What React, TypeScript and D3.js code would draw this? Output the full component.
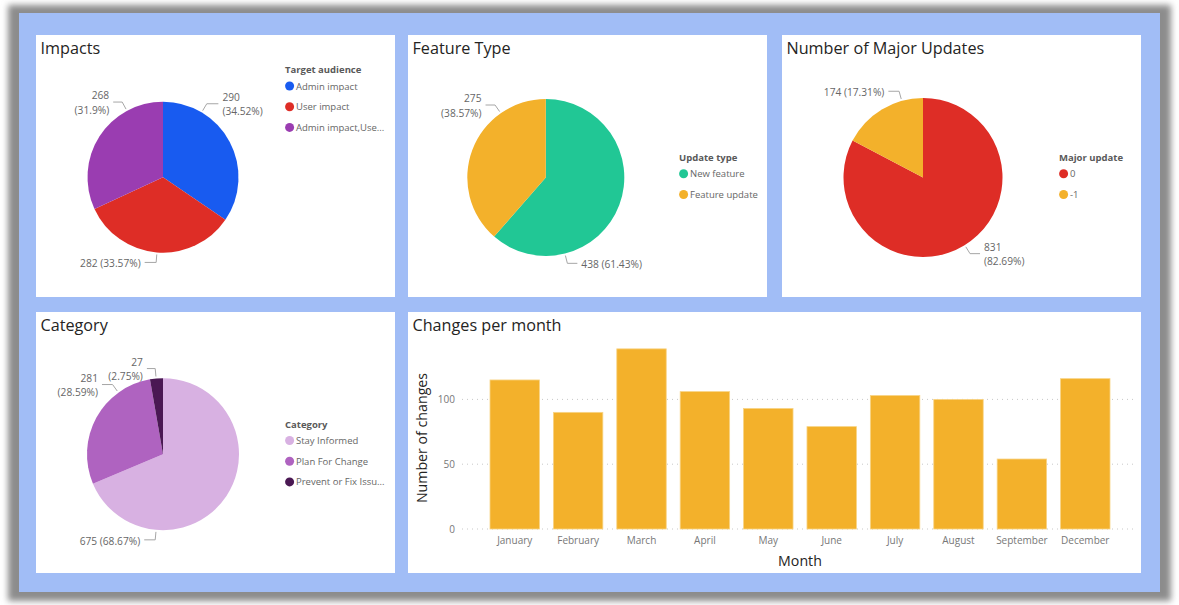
import React from 'react';
import * as d3 from 'd3';

const FONT = "'Segoe UI', 'Open Sans', sans-serif";

// ---------- data ----------
const impactCategories = ["Admin impact", "User impact", "Admin impact,User impact"];
const impactValues = [290, 282, 268];
const impactColors = ["#185BF0", "#DE2D26", "#9A3DB1"];

const featureCategories = ["New feature", "Feature update"];
const featureValues = [438, 275];
const featureColors = ["#21C795", "#F3B12B"];

const majorCategories = ["0", "-1"];
const majorValues = [831, 174];
const majorColors = ["#DE2D26", "#F3B12B"];

const categoryNames = ["Stay Informed", "Plan For Change", "Prevent or Fix Issues"];
const categoryValues = [675, 281, 27];
const categoryColors = ["#D8B1E2", "#AF63C0", "#4A1853"];

const months = ["January", "February", "March", "April", "May", "June", "July", "August", "September", "December"];
const monthChanges = [115, 90, 139, 106, 93, 79, 103, 100, 54, 116];
const yTicks = [0, 50, 100];

// ---------- helpers ----------
type LabelLayout = { angle: number; side: 'left' | 'right'; lines: 1 | 2; hlen: number };

const fmtPct = (v: number) => {
  let s = d3.format('.2f')(v);
  s = s.replace(/0+$/, '').replace(/\.$/, '');
  return s + '%';
};

let measureCtx: CanvasRenderingContext2D | null = null;
function truncate(text: string, font: string, maxW: number) {
  if (typeof document === 'undefined') return text;
  if (!measureCtx) measureCtx = document.createElement('canvas').getContext('2d');
  if (!measureCtx) return text;
  measureCtx.font = font;
  if (measureCtx.measureText(text).width <= maxW) return text;
  let t = text;
  while (t.length > 1 && measureCtx.measureText(t + '...').width > maxW) t = t.slice(0, -1);
  return t + '...';
}

function polar(cx: number, cy: number, r: number, deg: number): [number, number] {
  const a = (deg * Math.PI) / 180;
  return [cx + r * Math.sin(a), cy - r * Math.cos(a)];
}

function Pie({ cx, cy, r, values, colors, layout }: { cx: number; cy: number; r: number; values: number[]; colors: string[]; layout: LabelLayout[] }) {
  const pie = d3.pie<number>().sort(null).value((d) => d);
  const arcs = pie(values);
  const arc = d3.arc<d3.PieArcDatum<number>>().innerRadius(0).outerRadius(r);
  const total = d3.sum(values);
  return (
    <g>
      <g transform={`translate(${cx},${cy})`}>
        {arcs.map((a, i) => (
          <path key={i} d={arc(a) || ''} fill={colors[i]} />
        ))}
      </g>
      {arcs.map((a, i) => {
        const L = layout[i];
        const p0 = polar(cx, cy, r + 2, L.angle);
        const p1 = polar(cx, cy, r + 10, L.angle);
        const dir = L.side === 'right' ? 1 : -1;
        const p2: [number, number] = [p1[0] + dir * L.hlen, p1[1]];
        const tx = p2[0] + dir * 4;
        const anchor = L.side === 'right' ? 'start' : 'end';
        const v = values[i];
        const pct = `(${fmtPct((v / total) * 100)})`;
        return (
          <g key={'l' + i}>
            <polyline points={[p0, p1, p2].map((p) => p.join(',')).join(' ')} fill="none" stroke="#A6A6A6" strokeWidth={1} />
            {L.lines === 1 ? (
              <text x={tx} y={p2[1] + 1} textAnchor={anchor} dominantBaseline="central" fontSize={10.2} fill="#666666" fontFamily={FONT}>
                {`${v} ${pct}`}
              </text>
            ) : (
              <text textAnchor={anchor} dominantBaseline="central" fontSize={10.2} fill="#666666" fontFamily={FONT}>
                <tspan x={tx} y={p2[1] - 7}>{String(v)}</tspan>
                <tspan x={tx} y={p2[1] + 7.6}>{pct}</tspan>
              </text>
            )}
          </g>
        );
      })}
    </g>
  );
}

function Legend({ x, y, title, names, colors }: { x: number; y: number; title: string; names: string[]; colors: string[] }) {
  const fs = 9.5;
  return (
    <g fontFamily={FONT}>
      <text x={x} y={y} dominantBaseline="central" fontSize={fs} fontWeight="bold" fill="#595959">{title}</text>
      {names.map((n, i) => {
        const iy = y + 16.5 + i * 20.7;
        return (
          <g key={i}>
            <circle cx={x + 4.6} cy={iy} r={4.5} fill={colors[i]} />
            <text x={x + 11} y={iy} dominantBaseline="central" fontSize={fs} fill="#666666">
              {truncate(n, `${fs}px 'Open Sans'`, 89)}
            </text>
          </g>
        );
      })}
    </g>
  );
}

function Panel({ x, y, w, h, title }: { x: number; y: number; w: number; h: number; title: string }) {
  return (
    <g>
      <rect x={x} y={y} width={w} height={h} fill="#ffffff" />
      <text x={x + 4.5} y={y + 18.5} fontSize={16.2} fill="#252423" fontFamily={FONT}>{title}</text>
    </g>
  );
}

function Bars() {
  const x = d3.scaleBand<string>().domain(months).range([490, 1110]).paddingInner(0.22).paddingOuter(0);
  const y = d3.scaleLinear().domain([0, 150]).range([529, 529 - 150 * 1.296]);
  return (
    <g fontFamily={FONT}>
      {yTicks.map((t) => (
        <g key={t}>
          <line x1={462} x2={1137} y1={y(t)} y2={y(t)} stroke="#C8C8C8" strokeWidth={1} strokeDasharray="1,4" />
          <text x={455} y={y(t)} textAnchor="end" dominantBaseline="central" fontSize={10} fill="#777777">{t}</text>
        </g>
      ))}
      {months.map((m, i) => (
        <g key={m}>
          <rect x={x(m)!} y={y(monthChanges[i])} width={x.bandwidth()} height={y(0) - y(monthChanges[i])} fill="#F3B12B" stroke="#F8D486" strokeWidth={0.8} />
          <text x={x(m)! + x.bandwidth() / 2} y={539.5} textAnchor="middle" dominantBaseline="central" fontSize={10} fill="#777777">{m}</text>
        </g>
      ))}
      <text transform={`translate(421,438) rotate(-90)`} textAnchor="middle" dominantBaseline="central" fontSize={14.2} fill="#252423">Number of changes</text>
      <text x={800} y={560} textAnchor="middle" dominantBaseline="central" fontSize={14.2} fill="#252423">Month</text>
    </g>
  );
}

export default function App() {
  return (
    <svg width={1179} height={605} style={{ position: 'absolute', left: 0, top: 0 }}>
      <defs>
        <filter id="sh" x="-5%" y="-5%" width="110%" height="110%">
          <feGaussianBlur stdDeviation="3" />
        </filter>
      </defs>
      <rect width={1179} height={605} fill="#ffffff" />
      <rect x={8} y={5} width={1163} height={596} fill="#8C8C8C" filter="url(#sh)" />
      <rect x={19} y={13} width={1141} height={579} fill="#A1BDF6" />

      <Panel x={36} y={35} w={359} h={262} title="Impacts" />
      <Panel x={408} y={35} w={359} h={262} title="Feature Type" />
      <Panel x={782} y={35} w={359} h={262} title="Number of Major Updates" />
      <Panel x={36} y={312} w={359} h={261} title="Category" />
      <Panel x={408} y={312} w={733} h={261} title="Changes per month" />

      <Pie cx={163} cy={177.2} r={75.5} values={impactValues} colors={impactColors}
        layout={[
          { angle: 30.8, side: 'right', lines: 2, hlen: 11.6 },
          { angle: 184.6, side: 'left', lines: 1, hlen: 11.5 },
          { angle: -28.5, side: 'left', lines: 2, hlen: 9 },
        ]} />
      <Legend x={285} y={69.5} title="Target audience" names={impactCategories} colors={impactColors} />

      <Pie cx={545.8} cy={177.5} r={78.5} values={featureValues} colors={featureColors}
        layout={[
          { angle: 165.9, side: 'right', lines: 1, hlen: 10 },
          { angle: -35, side: 'left', lines: 2, hlen: 9.5 },
        ]} />
      <Legend x={679} y={157.3} title="Update type" names={featureCategories} colors={featureColors} />

      <Pie cx={923} cy={177.5} r={79.5} values={majorValues} colors={majorColors}
        layout={[
          { angle: 148.3, side: 'right', lines: 2, hlen: 10 },
          { angle: -15.5, side: 'left', lines: 1, hlen: 10.7 },
        ]} />
      <Legend x={1059} y={157.3} title="Major update" names={majorCategories} colors={majorColors} />

      <Pie cx={163} cy={454.2} r={76} values={categoryValues} colors={categoryColors}
        layout={[
          { angle: 185.2, side: 'left', lines: 1, hlen: 11 },
          { angle: -35.9, side: 'left', lines: 2, hlen: 10.6 },
          { angle: -5.2, side: 'left', lines: 2, hlen: 8.3 },
        ]} />
      <Legend x={285} y={424} title="Category" names={categoryNames} colors={categoryColors} />

      <Bars />
    </svg>
  );
}
